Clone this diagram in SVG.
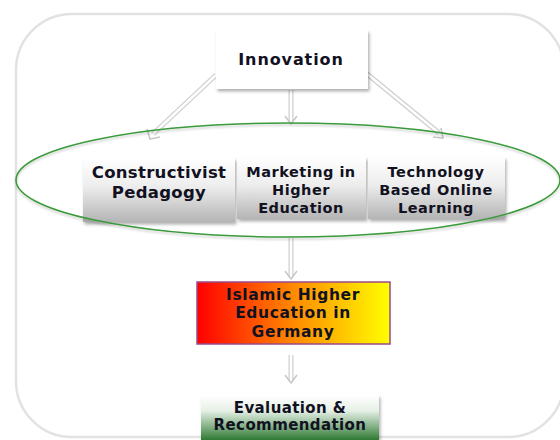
<svg xmlns="http://www.w3.org/2000/svg" width="560" height="440" viewBox="0 0 560 440">
  <defs>
    <linearGradient id="silver" x1="0" y1="0" x2="0" y2="1">
      <stop offset="0" stop-color="#ffffff"/>
      <stop offset="0.45" stop-color="#ededed"/>
      <stop offset="1" stop-color="#b4b4b4"/>
    </linearGradient>
    <linearGradient id="fire" x1="0" y1="0" x2="1" y2="0">
      <stop offset="0" stop-color="#ff0000"/>
      <stop offset="0.5" stop-color="#ff8a00"/>
      <stop offset="1" stop-color="#ffff00"/>
    </linearGradient>
    <linearGradient id="leaf" x1="0" y1="0" x2="0" y2="1">
      <stop offset="0" stop-color="#ffffff"/>
      <stop offset="0.35" stop-color="#e6f0e6"/>
      <stop offset="1" stop-color="#2f7a34"/>
    </linearGradient>
    <filter id="shadow" x="-10%" y="-10%" width="125%" height="130%">
      <feDropShadow dx="1.5" dy="2.5" stdDeviation="1.5" flood-color="#000" flood-opacity="0.3"/>
    </filter>
    <filter id="soft" x="-5%" y="-10%" width="110%" height="125%">
      <feDropShadow dx="0" dy="2" stdDeviation="1.2" flood-color="#000" flood-opacity="0.2"/>
    </filter>
  </defs>
  <style>
    .lbl { font-family: "DejaVu Sans", Verdana, sans-serif; font-weight: bold; fill: #111122; text-anchor: middle; }
    .shaft { fill: none; stroke: #cfcfcf; stroke-width: 5; }
    .core { fill: none; stroke: #ffffff; stroke-width: 2.5; }
    .head { fill: none; stroke: #c8c8c8; stroke-width: 1.6; stroke-linejoin: miter; }
  </style>

  <rect width="560" height="440" fill="#ffffff"/>

  <!-- outer frame -->
  <rect x="16" y="14" width="548" height="423" rx="56" ry="56" fill="#ffffff" stroke="#e2e2e2" stroke-width="2.5"/>

  <!-- connectors -->
  <g id="connectors">
    <path class="shaft" d="M216,75 L153,134"/>
    <path class="core" d="M216,75 L153,134"/>
    <path class="head" d="M147,129 L150,139 L160,137"/>

    <path class="shaft" d="M291,90 L291,121"/>
    <path class="core" d="M291,90 L291,121"/>
    <path class="head" d="M285,116 L291,124 L297,116"/>

    <path class="shaft" d="M366,73 L439,133"/>
    <path class="core" d="M366,73 L439,133"/>
    <path class="head" d="M433,137 L443,138 L441,128"/>

    <path class="shaft" d="M291,238 L291,277"/>
    <path class="core" d="M291,238 L291,277"/>
    <path class="head" d="M285,271 L291,279 L297,271"/>

    <path class="shaft" d="M291,355 L291,381"/>
    <path class="core" d="M291,355 L291,381"/>
    <path class="head" d="M285,375 L291,383 L297,375"/>
  </g>

  <!-- innovation -->
  <g id="innovation">
    <rect x="216" y="30" width="152" height="59" fill="#ffffff" filter="url(#shadow)"/>
    <text class="lbl" x="291" y="65" font-size="16" letter-spacing="0.9">Innovation</text>
  </g>

  <!-- three pillars -->
  <g id="constructivist">
    <rect x="83" y="158" width="152" height="64" fill="url(#silver)" filter="url(#shadow)"/>
    <text class="lbl" x="159" y="178" font-size="16.5" letter-spacing="0.3">Constructivist</text>
    <text class="lbl" x="159" y="198" font-size="16.5" letter-spacing="0.3">Pedagogy</text>
  </g>
  <g id="marketing">
    <rect x="237" y="157" width="129" height="62" fill="url(#silver)" filter="url(#shadow)"/>
    <text class="lbl" x="301" y="177" font-size="14.5" letter-spacing="0.5">Marketing in</text>
    <text class="lbl" x="301" y="195" font-size="14.5" letter-spacing="0.5">Higher</text>
    <text class="lbl" x="301" y="213" font-size="14.5" letter-spacing="0.5">Education</text>
  </g>
  <g id="technology">
    <rect x="368" y="157" width="137" height="62" fill="url(#silver)" filter="url(#shadow)"/>
    <text class="lbl" x="436" y="177" font-size="14.5" letter-spacing="0.5">Technology</text>
    <text class="lbl" x="436" y="195" font-size="14.5" letter-spacing="0.5">Based Online</text>
    <text class="lbl" x="436" y="213" font-size="14.5" letter-spacing="0.5">Learning</text>
  </g>

  <!-- grouping ellipse -->
  <g id="pillar-group">
    <ellipse cx="288" cy="180" rx="272" ry="57" fill="none" stroke="#3a9a3a" stroke-width="1.5" filter="url(#soft)"/>
  </g>

  <g id="islamic">
    <rect x="197" y="282" width="193" height="62" fill="url(#fire)" stroke="#9a4a8a" stroke-width="1.5"/>
    <text class="lbl" x="293" y="300" font-size="15.5" letter-spacing="0.6">Islamic Higher</text>
    <text class="lbl" x="293" y="318" font-size="15.5" letter-spacing="0.6">Education in</text>
    <text class="lbl" x="293" y="337" font-size="15.5" letter-spacing="0.6">Germany</text>
  </g>

  <g id="evaluation">
    <rect x="201" y="395" width="178" height="45" fill="url(#leaf)" filter="url(#shadow)"/>
    <text class="lbl" x="290" y="413" font-size="15" letter-spacing="0.4">Evaluation &amp;</text>
    <text class="lbl" x="290" y="430" font-size="15" letter-spacing="0.4">Recommendation</text>
  </g>
</svg>
